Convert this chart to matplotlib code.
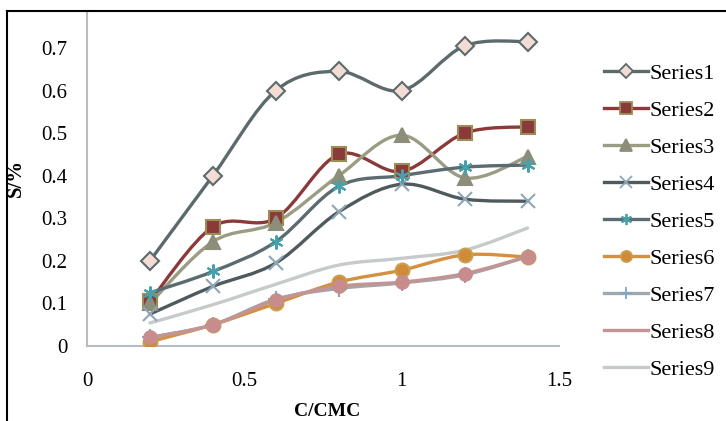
import matplotlib
matplotlib.use("Agg")
import matplotlib.pyplot as plt
from matplotlib.path import Path
from matplotlib.patches import PathPatch, Rectangle
from matplotlib.lines import Line2D

plt.rcParams['font.family'] = ['Liberation Serif', 'DejaVu Serif']

# C/CMC values (x) and S/% for each series
x = [0.2, 0.4, 0.6, 0.8, 1.0, 1.2, 1.4]
series1 = [0.20, 0.40, 0.60, 0.645, 0.60, 0.705, 0.715]
series2 = [0.105, 0.28, 0.30, 0.45, 0.41, 0.50, 0.515]
series3 = [0.10, 0.245, 0.29, 0.40, 0.495, 0.395, 0.445]
series4 = [0.075, 0.14, 0.195, 0.315, 0.38, 0.345, 0.34]
series5 = [0.125, 0.175, 0.245, 0.375, 0.40, 0.42, 0.425]
series6 = [0.01, 0.05, 0.10, 0.15, 0.178, 0.214, 0.209]
series7 = [0.02, 0.05, 0.11, 0.135, 0.148, 0.167, 0.21]
series8 = [0.02, 0.05, 0.108, 0.14, 0.15, 0.17, 0.21]
series9 = [0.054, 0.097, 0.145, 0.19, 0.206, 0.225, 0.277]

labels = ['Series%d' % i for i in range(1, 10)]
data = [series1, series2, series3, series4, series5,
        series6, series7, series8, series9]

# line colour, marker, marker face, marker edge, marker size
styles = [
    ('#5d6a6c', 'D', '#f2dcd4', '#5d6a6c', 9),
    ('#8b3a3a', 's', '#8b3a3a', '#9c8c58', 10),
    ('#9a9d84', '^', '#8c8e7a', '#8c8e7a', 10),
    ('#4f5a5c', 'x', 'none', '#8fa6b6', 10),
    ('#5b6b6f', (6, 2, 0), 'none', '#48a0aa', 10),
    ('#d49040', 'o', '#d08a38', '#c8a050', 10),
    ('#9fa8ad', '+', 'none', '#84a4c0', 11),
    ('#c49494', 'o', '#c88c8c', '#c88c8c', 9),
    ('#c6cacb', None, 'none', 'none', 0),
]


def smooth_path(xs, ys):
    # Excel-like smoothed line: cubic Bezier through the data points
    verts = [(xs[0], ys[0])]
    codes = [Path.MOVETO]
    n = len(xs)
    for i in range(n - 1):
        i0 = max(i - 1, 0)
        i3 = min(i + 2, n - 1)
        c1 = (xs[i] + (xs[i + 1] - xs[i0]) / 6.0, ys[i] + (ys[i + 1] - ys[i0]) / 6.0)
        c2 = (xs[i + 1] - (xs[i3] - xs[i]) / 6.0, ys[i + 1] - (ys[i3] - ys[i]) / 6.0)
        verts += [c1, c2, (xs[i + 1], ys[i + 1])]
        codes += [Path.CURVE4] * 3
    return Path(verts, codes)


fig = plt.figure(figsize=(7.26, 4.21), dpi=100)
ax = fig.add_axes([87 / 726, 75 / 421, 472 / 726, 340.6 / 421])

handles = []
for ys, lab, (lc, mk, mf, me, ms) in zip(data, labels, styles):
    ax.add_patch(PathPatch(smooth_path(x, ys), fill=False, edgecolor=lc,
                           lw=2.4, capstyle='round', joinstyle='round', zorder=2))
    if mk is not None:
        ax.plot(x, ys, linestyle='none', marker=mk, markersize=ms,
                markerfacecolor=mf, markeredgecolor=me, markeredgewidth=1.5, zorder=3)
    if lab == 'Series8' or mk is None:
        handles.append(Line2D([], [], color=lc, lw=2.4))
    else:
        handles.append(Line2D([], [], color=lc, lw=2.4, marker=mk, markersize=ms * 0.8,
                              markerfacecolor=mf, markeredgecolor=me, markeredgewidth=1.3))

ax.set_xlim(0, 1.5)
ax.set_ylim(0, 0.8)
ax.set_xticks([0, 0.5, 1, 1.5])
ax.set_xticklabels(['0', '0.5', '1', '1.5'])
ax.set_yticks([0, 0.1, 0.2, 0.3, 0.4, 0.5, 0.6, 0.7, 0.8])
ax.set_yticklabels(['0', '0.1', '0.2', '0.3', '0.4', '0.5', '0.6', '0.7', '0.8'])
ax.tick_params(length=0, labelsize=15)
ax.tick_params(axis='y', pad=14)
ax.tick_params(axis='x', pad=19)
for side in ['top', 'right']:
    ax.spines[side].set_visible(False)
for side in ['left', 'bottom']:
    ax.spines[side].set_color('#b8bcc0')
    ax.spines[side].set_linewidth(1.5)

fig.text(16 / 726, 1 - 178 / 421, 'S/%', rotation=90, fontsize=15,
         fontweight='bold', ha='center', va='center')
fig.text(327 / 726, 1 - 411 / 421, 'C/CMC', fontsize=14,
         fontweight='bold', ha='center', va='center')

fig.legend(handles, labels, loc='upper left', bbox_to_anchor=(604 / 726, 1 - 63 / 421),
           frameon=False, fontsize=16, handlelength=2.0, handletextpad=0.05,
           labelspacing=0.74, borderaxespad=0, borderpad=0)

# the picture is a crop: white band on top and black frame lines
fig.add_artist(Rectangle((0, 1 - 11 / 421), 1, 11 / 421, transform=fig.transFigure,
                         facecolor='white', edgecolor='none', zorder=10))
fig.add_artist(Line2D([7 / 726, 1], [1 - 11 / 421, 1 - 11 / 421], transform=fig.transFigure,
                      color='black', lw=1.5, zorder=11))
fig.add_artist(Line2D([7 / 726, 7 / 726], [0, 1 - 11 / 421], transform=fig.transFigure,
                      color='black', lw=1.5, zorder=11))

fig.savefig('out.png', dpi=100)
